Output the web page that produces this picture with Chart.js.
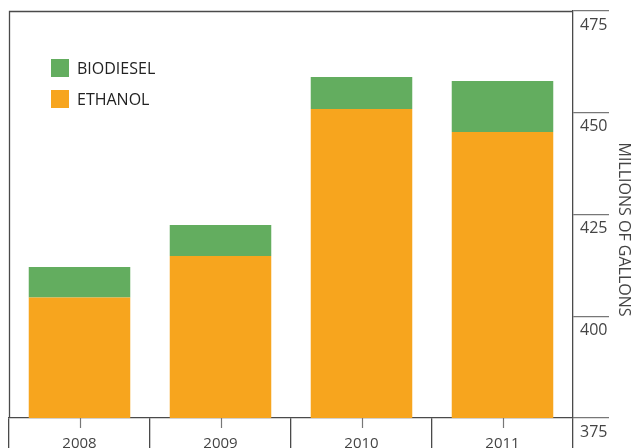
<!DOCTYPE html>
<html>
<head>
<meta charset="utf-8">
<script src="https://cdn.jsdelivr.net/npm/chart.js@4"></script>
<style>
  body { margin: 0; background: #fff; }
  #wrap { width: 634px; height: 448px; }
</style>
</head>
<body>
<div id="wrap"><canvas id="fuelChart" width="634" height="448"></canvas></div>
<script>
// values (millions of gallons)
const years = ['2008', '2009', '2010', '2011'];
const ethanol = [404.6, 414.8, 450.9, 445.3];
const biodiesel = [7.5, 7.6, 7.9, 12.5];
const yTicks = [375, 400, 425, 450, 475];
const axisTitle = 'MILLIONS OF GALLONS';

const GREEN = '#63ad5f';
const ORANGE = '#f7a51e';
const LINE = '#4a4a4a';
const FONT = "'Open Sans', 'Noto Sans', sans-serif";

// frame lines, small centre ticks, the legend and the side title
const framePlugin = {
  id: 'frame',
  afterDraw(chart) {
    const { ctx, chartArea: a, scales: { x } } = chart;
    ctx.save();

    ctx.strokeStyle = LINE;
    ctx.lineWidth = 1.3;
    ctx.beginPath();
    ctx.moveTo(Math.round(a.left) + 0.5, a.bottom);
    ctx.lineTo(Math.round(a.left) + 0.5, Math.round(a.top) + 0.5);
    ctx.lineTo(a.right, Math.round(a.top) + 0.5);
    ctx.stroke();

    // short ticks under each bar
    ctx.strokeStyle = '#777';
    ctx.lineWidth = 1.2;
    years.forEach((_, i) => {
      const px = Math.round(x.getPixelForValue(i)) + 0.5;
      ctx.beginPath();
      ctx.moveTo(px, a.bottom);
      ctx.lineTo(px, a.bottom + 10);
      ctx.stroke();
    });

    // legend, biodiesel on top
    const items = chart.data.datasets.slice().reverse();
    ctx.font = '16px ' + FONT;
    ctx.textBaseline = 'middle';
    ctx.textAlign = 'left';
    items.forEach((ds, k) => {
      const top = a.top + 48 + k * 31;
      ctx.fillStyle = ds.backgroundColor;
      ctx.fillRect(a.left + 42, top, 18, 18);
      ctx.fillStyle = '#222';
      ctx.fillText(ds.label, a.left + 68, top + 10);
    });

    // axis title, reading top to bottom
    ctx.translate(624, (a.top + a.bottom) / 2 + 15);
    ctx.rotate(Math.PI / 2);
    ctx.textAlign = 'center';
    ctx.fillStyle = '#444';
    ctx.font = '16px ' + FONT;
    ctx.fillText(axisTitle, 0, 0);

    ctx.restore();
  }
};

new Chart(document.getElementById('fuelChart'), {
  type: 'bar',
  data: {
    labels: years,
    datasets: [
      { label: 'ETHANOL', data: ethanol, backgroundColor: ORANGE },
      { label: 'BIODIESEL', data: biodiesel, backgroundColor: GREEN }
    ]
  },
  options: {
    responsive: false,
    animation: false,
    layout: { padding: { left: 9, top: 11, right: 0, bottom: 0 } },
    datasets: { bar: { barPercentage: 0.72, categoryPercentage: 1, borderWidth: 0 } },
    plugins: { legend: { display: false }, tooltip: { enabled: false } },
    scales: {
      x: {
        stacked: true,
        offset: true,
        grid: { offset: true, drawOnChartArea: false, tickLength: 30, color: LINE, lineWidth: 1.3 },
        border: { display: true, color: LINE, width: 1.3 },
        ticks: { color: '#444', font: { family: FONT, size: 15 }, padding: -13 },
        afterFit(s) { s.height = 30; }
      },
      y: {
        stacked: true,
        position: 'right',
        min: 375,
        max: 475,
        afterBuildTicks(s) { s.ticks = yTicks.map(v => ({ value: v })); },
        grid: { drawOnChartArea: false, tickLength: 36, color: '#777', lineWidth: 1.2 },
        border: { display: true, color: LINE, width: 1.3 },
        ticks: { color: '#444', font: { family: FONT, size: 16 }, padding: -29, labelOffset: 14 },
        afterFit(s) { s.width = 61; }
      }
    }
  },
  plugins: [framePlugin]
});
</script>
</body>
</html>
